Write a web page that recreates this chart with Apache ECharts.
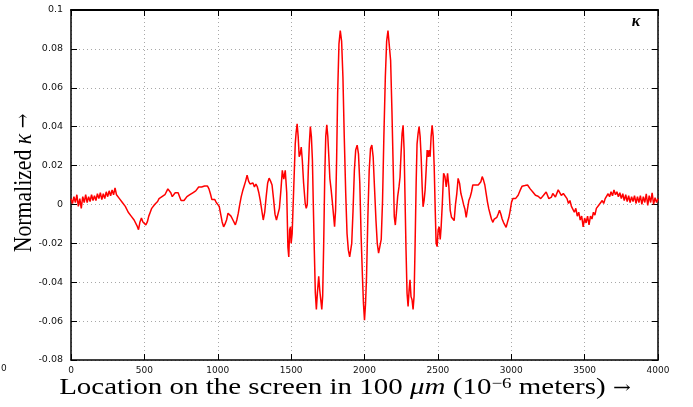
<!DOCTYPE html>
<html><head><meta charset="utf-8">
<script src="https://cdn.jsdelivr.net/npm/echarts@6/dist/echarts.min.js"></script>
<style>html,body{margin:0;padding:0;background:#fff}#c{width:693px;height:407px}</style>
</head><body><div id="c"></div>
<script>
var xTicks = [0,500,1000,1500,2000,2500,3000,3500,4000];
var yTickLabels = ['-0.08','-0.06','-0.04','-0.02','0','0.02','0.04','0.06','0.08','0.1'];
var legendLabel = 'κ';

var locX = [
0,10,20,30,40,50,60,70,80,90,100,110,120,130,140,150,160,170,180,190,
200,210,220,230,240,250,260,270,280,290,300,310,320,330,340,350,360,370,380,390,
400,410,420,430,440,450,460,470,480,490,500,510,520,530,540,550,560,570,580,590,
600,610,620,630,640,650,660,670,680,690,700,710,720,730,740,750,760,770,780,790,
800,810,820,830,840,850,860,870,880,890,900,910,920,930,940,950,960,970,980,990,
1000,1010,1020,1030,1040,1050,1060,1070,1080,1090,1100,1110,1120,1130,1140,1150,1160,1170,1180,1190,
1200,1210,1220,1230,1240,1250,1260,1270,1280,1290,1300,1310,1320,1330,1340,1350,1360,1370,1380,1390,
1400,1410,1420,1430,1440,1450,1460,1470,1478,1484,1490,1496,1500,1507,1518,1528,1534,1541,1548,1555,
1562,1569,1576,1585,1596,1603,1610,1617,1624,1631,1638,1645,1651,1658,1665,1672,1679,1688,1695,1702,
1709,1715,1722,1729,1736,1743,1750,1757,1764,1773,1780,1789,1796,1803,1810,1817,1826,1835,1844,1853,
1862,1872,1881,1890,1899,1906,1913,1922,1931,1940,1950,1959,1968,1977,1986,1993,2000,2007,2014,2023,
2032,2041,2050,2059,2068,2078,2087,2096,2105,2114,2123,2132,2142,2151,2160,2169,2178,2187,2196,2203,
2210,2217,2226,2235,2242,2249,2256,2263,2270,2276,2283,2290,2297,2304,2310,2317,2324,2331,2338,2345,
2352,2358,2365,2372,2379,2386,2393,2399,2406,2413,2420,2427,2434,2440,2447,2454,2461,2468,2475,2482,
2488,2495,2502,2509,2516,2522,2530,2539,2548,2557,2566,2575,2584,2593,2602,2611,2620,2629,2638,2648,
2657,2666,2675,2684,2693,2702,2711,2720,2729,2738,2748,2757,2766,2775,2784,2793,2802,2811,2820,2829,
2838,2847,2856,2865,2875,2884,2893,2902,2911,2920,2929,2938,2947,2956,2965,2974,2984,2993,3002,3011,
3020,3029,3038,3047,3056,3065,3074,3084,3093,3102,3111,3120,3129,3138,3147,3156,3165,3174,3183,3192,
3201,3211,3220,3229,3238,3247,3256,3265,3274,3283,3292,3301,3310,3320,3332,3341,3355,3368,3380,3390,
3400,3410,3420,3430,3440,3450,3460,3470,3480,3490,3500,3510,3520,3530,3540,3550,3560,3570,3580,3590,
3600,3610,3620,3630,3640,3650,3660,3670,3680,3690,3700,3710,3720,3730,3740,3750,3760,3770,3780,3790,
3800,3810,3820,3830,3840,3850,3860,3870,3880,3890,3900,3910,3920,3930,3940,3950,3960,3970,3980,3990,
4000];

var kappa = [
0.003,0.0005,0.004,0.001,0.005,-0.001,0.003,-0.002,0.004,0.001,0.005,0.001,0.004,0.0015,0.005,0.002,0.0045,0.002,0.0055,0.003,
0.006,0.0025,0.0055,0.003,0.0065,0.004,0.007,0.0045,0.0075,0.005,0.0085,0.005,0.006,0.003,0.004,0.001,0.0015,-0.001,-0.0015,-0.004,
-0.003,-0.006,-0.005,-0.008,-0.007,-0.011,-0.013,-0.009,-0.007,-0.009,-0.008,-0.0105,-0.009,-0.006,-0.004,-0.002,-0.002,0.0,0.001,0.0015,
0.003,0.002,0.004,0.003,0.005,0.006,0.008,0.009,0.006,0.004,0.005,0.006,0.005,0.006,0.004,0.002,0.001,0.002,0.003,0.004,
0.004,0.005,0.005,0.006,0.006,0.007,0.008,0.009,0.0095,0.009,0.0095,0.0095,0.009,0.0095,0.008,0.0055,0.0025,0.002,0.0025,0.001,
0.0005,-0.001,-0.005,-0.009,-0.0115,-0.01,-0.008,-0.0045,-0.005,-0.006,-0.0075,-0.0085,-0.0105,-0.008,-0.0045,0.0,0.004,0.007,0.0095,0.012,
0.015,0.012,0.0105,0.0095,0.011,0.009,0.0105,0.009,0.006,0.002,0.0015,-0.008,-0.004,0.004,0.011,0.0135,0.012,0.01,0.003,-0.005,
-0.008,-0.007,-0.002,0.007,0.0175,0.013,0.0175,0.006,-0.022,-0.027,-0.013,-0.0115,-0.02,-0.015,0.009,0.031,0.037,0.0415,0.035,0.0245,
0.026,0.0295,0.023,0.011,0.0005,-0.002,0.0,0.0175,0.031,0.04,0.035,0.023,0.0005,-0.0235,-0.0455,-0.054,-0.0455,-0.037,-0.044,-0.049,
-0.054,-0.047,-0.02,0.014,0.035,0.041,0.035,0.0245,0.0133,0.0074,0.002,-0.0055,-0.0115,-0.003,0.023,0.057,0.0826,0.0894,0.084,0.0655,
0.035,0.0056,-0.015,-0.0235,-0.027,-0.026,-0.02,-0.003,0.0175,0.028,0.0305,0.026,0.011,-0.0165,-0.037,-0.051,-0.0595,-0.051,-0.037,-0.0063,
0.0176,0.0287,0.0305,0.0245,0.009,-0.008,-0.02,-0.025,-0.026,-0.018,0.002,0.035,0.0655,0.084,0.0894,0.0886,0.074,0.048,0.0176,-0.0063,
-0.0106,-0.0046,0.004,0.009,0.014,0.026,0.0364,0.0407,0.028,0.004,-0.0234,-0.0457,-0.0525,-0.044,-0.0388,-0.0474,-0.049,-0.054,-0.047,-0.02,
0.011,0.031,0.0364,0.04,0.035,0.0245,0.009,-0.0012,0.002,0.0074,0.0176,0.028,0.0245,0.028,0.0245,0.035,0.0407,0.035,0.0193,-0.003,
-0.02,-0.0217,-0.013,-0.0115,-0.018,-0.012,0.0,0.016,0.0143,0.009,0.016,0.009,-0.003,-0.0066,-0.0057,-0.0083,0.0,0.0056,0.0134,0.0108,
0.0056,0.003,0.0,-0.0023,-0.0066,-0.0023,0.002,0.0038,0.0064,0.01,0.009,0.01,0.009,0.01,0.0108,0.0117,0.0143,0.0125,0.01,0.0056,
0.0012,-0.0023,-0.0049,-0.0075,-0.0092,-0.0075,-0.0083,-0.0066,-0.0049,-0.003,-0.0049,-0.0075,-0.0092,-0.01,-0.0118,-0.0092,-0.0066,-0.003,0.0012,0.003,
0.002,0.003,0.0038,0.0047,0.0064,0.008,0.0094,0.01,0.0097,0.0094,0.01,0.009,0.008,0.0073,0.0064,0.0056,0.0047,0.0045,0.0042,0.0038,
0.003,0.0035,0.0047,0.0056,0.0064,0.0056,0.003,0.002,0.0038,0.0056,0.0047,0.0038,0.0047,0.0075,0.008,0.0047,0.0056,0.0047,0.003,0.0005,
0.002,-0.001,-0.0005,-0.004,-0.002,-0.006,-0.004,-0.008,-0.006,-0.0115,-0.007,-0.0095,-0.006,-0.0105,-0.006,-0.0075,-0.004,-0.0055,-0.002,-0.003,
0.0,-0.001,0.002,0.0005,0.003,0.002,0.0055,0.004,0.0065,0.0045,0.0075,0.005,0.0065,0.004,0.006,0.003,0.0055,0.002,0.005,0.0015,
0.0045,0.001,0.004,0.0015,0.0045,0.0005,0.004,0.001,0.0045,0.0,0.004,0.001,0.0055,-0.0005,0.0045,0.001,0.006,0.0,0.0035,0.001,
0.003];

var seriesData = locX.map(function (x, i) { return [x, kappa[i]]; });

var chart = echarts.init(document.getElementById('c'), null, {renderer: 'canvas'});
var serif = '"Liberation Serif", serif';
var sans = '"DejaVu Sans", sans-serif';
var gridLine = {show: true, lineStyle: {color: '#a8a8a8', type: [1, 3], width: 1}};
function yLab(v) {
  var i = Math.round((v + 0.08) / 0.02);
  return yTickLabels[i] !== undefined ? yTickLabels[i] : '';
}
function xLab(v) { return String(Math.round(v)); }
var axLine = function (w) { return {show: true, onZero: false, lineStyle: {color: '#000', width: w}}; };
var tick = {show: true, inside: true, length: 6, lineStyle: {color: '#000'}};
chart.setOption({
  animation: false,
  backgroundColor: '#fff',
  grid: {left: 71, top: 10, right: 35, bottom: 47, containLabel: false},
  xAxis: [{
    type: 'value', min: xTicks[0], max: xTicks[xTicks.length - 1], interval: 500,
    axisLine: axLine(1.5), axisTick: tick,
    axisLabel: {fontFamily: sans, fontSize: 9, color: '#111', margin: 6, formatter: xLab},
    splitLine: gridLine
  }, {
    type: 'value', position: 'top', min: xTicks[0], max: xTicks[xTicks.length - 1], interval: 500,
    axisLine: axLine(2), axisTick: tick,
    axisLabel: {show: false}, splitLine: {show: false}
  }],
  yAxis: [{
    type: 'value', min: -0.08, max: 0.1, interval: 0.02,
    axisLine: axLine(1.5), axisTick: tick,
    axisLabel: {fontFamily: sans, fontSize: 9.5, color: '#111', margin: 8, formatter: yLab},
    splitLine: gridLine
  }, {
    type: 'value', position: 'right', min: -0.08, max: 0.1, interval: 0.02,
    axisLine: axLine(1.5), axisTick: tick,
    axisLabel: {show: false}, splitLine: {show: false}
  }],
  series: [{
    type: 'line', name: legendLabel, data: seriesData, showSymbol: false,
    lineStyle: {color: '#ff0000', width: 1.5}, itemStyle: {color: '#ff0000'}
  }],
  graphic: [
    {type: 'text', left: 1, top: 364, style: {text: '0', font: '9px ' + sans, fill: '#111'}},
    {type: 'text', x: 345, y: 388, scaleX: 1.26, scaleY: 1, style: {
      text: '{a|Location on the screen in 100 }{i|μm}{a| (10}{s|−6}{a| meters) }{r|→}',
      align: 'center', verticalAlign: 'middle',
      rich: {
        a: {fontFamily: serif, fontSize: 23, fill: '#000', verticalAlign: 'bottom'},
        i: {fontFamily: serif, fontSize: 23, fontStyle: 'italic', fill: '#000', verticalAlign: 'bottom'},
        s: {fontFamily: serif, fontSize: 15, fill: '#000', verticalAlign: 'top'},
        r: {fontFamily: '"DejaVu Serif"', fontSize: 17, fill: '#000', verticalAlign: 'bottom', padding: [0, 0, 2, 0]}
      }
    }},
    {type: 'text', x: 24, y: 183, rotation: Math.PI / 2, scaleX: 0.87, scaleY: 1, style: {
      text: '{a|Normalized }{i|κ}{a| }{r|→}', align: 'center', verticalAlign: 'middle',
      rich: {
        a: {fontFamily: serif, fontSize: 25, fill: '#000'},
        i: {fontFamily: serif, fontSize: 25, fontStyle: 'italic', fill: '#000'},
        r: {fontFamily: '"DejaVu Serif"', fontSize: 20, fill: '#000'}
      }
    }},
    {type: 'text', x: 636, y: 22, style: {
      text: legendLabel, align: 'center', verticalAlign: 'middle',
      font: 'italic bold 16px ' + serif, fill: '#000'
    }}
  ]
});
</script></body></html>
